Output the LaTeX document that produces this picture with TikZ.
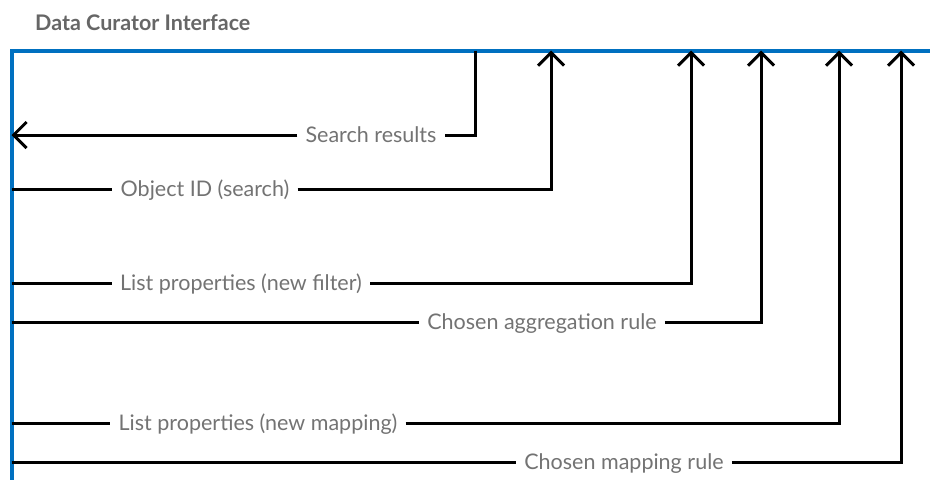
\documentclass[tikz,border=0pt]{standalone}
\usepackage{fontspec}
\setmainfont{Lato}
\usetikzlibrary{arrows.meta}
\definecolor{barblue}{HTML}{0070C0}
\definecolor{lblgray}{HTML}{737373}
\definecolor{ttlgray}{HTML}{666666}
\begin{document}
\begin{tikzpicture}[x=1pt,y=-1pt,
  flow/.style={line width=3pt, draw=black},
  tipend/.style={-{Straight Barb[length=13pt,width=26pt,line width=3pt]}},
  lab/.style={fill=white, text=lblgray, font=\fontsize{21.5}{24}\selectfont,
    inner xsep=8pt, inner ysep=0pt, text height=15.4pt, text depth=0pt}]
\useasboundingbox (0,0) rectangle (930,480);
\node[anchor=base west, text=ttlgray, font=\bfseries\fontsize{21.5}{24}\selectfont, inner sep=0pt] (title) at (35,30) {Data Curator Interface};
\draw[barblue, line width=4pt] (930,50.5) -- (11.5,50.5) -- (11.5,480);
% coordinates on the interface bar
\coordinate (t1) at (475,50.5);
\coordinate (t2) at (551,50.5);
\coordinate (t3) at (691,50.5);
\coordinate (t4) at (761,50.5);
\coordinate (t5) at (839,50.5);
\coordinate (t6) at (901,50.5);
\coordinate (l1) at (11.5,135);
\coordinate (l2) at (11.5,189);
\coordinate (l3) at (11.5,283);
\coordinate (l4) at (11.5,322);
\coordinate (l5) at (11.5,423);
\coordinate (l6) at (11.5,462);
% labels
\node[lab] (sr) at (371,135) {Search results};
\node[lab] (oid) at (205,189) {Object ID (search)};
\node[lab] (lpf) at (241,283) {List properties (new filter)};
\node[lab] (car) at (542,322) {Chosen aggregation rule};
\node[lab] (lpm) at (258,423) {List properties (new mapping)};
\node[lab] (cmr) at (624,462) {Chosen mapping rule};
% connectors
\draw[flow] (t1) |- (sr.east);
\draw[flow, tipend] (sr.west) -- (l1);
\draw[flow] (l2) -- (oid.west);
\draw[flow, tipend] (oid.east) -| (t2);
\draw[flow] (l3) -- (lpf.west);
\draw[flow, tipend] (lpf.east) -| (t3);
\draw[flow] (l4) -- (car.west);
\draw[flow, tipend] (car.east) -| (t4);
\draw[flow] (l5) -- (lpm.west);
\draw[flow, tipend] (lpm.east) -| (t5);
\draw[flow] (l6) -- (cmr.west);
\draw[flow, tipend] (cmr.east) -| (t6);
\end{tikzpicture}
\end{document}
